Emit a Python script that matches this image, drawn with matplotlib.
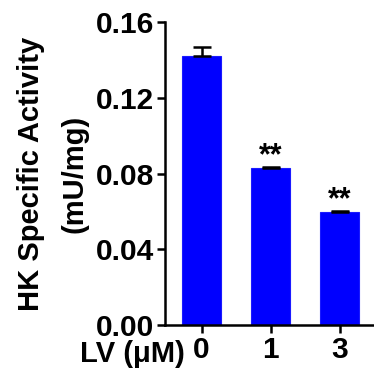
import matplotlib.pyplot as plt
import matplotlib.transforms as mtransforms

plt.rcParams['font.family'] = ['Liberation Sans', 'DejaVu Sans']
plt.rcParams['font.weight'] = 'bold'

groups = ['0', '1', '3']
means = [0.1422, 0.0827, 0.0597]
errors = [0.0046, 0.0005, 0.0003]
marks = ['', '**', '**']

fig = plt.figure(figsize=(3.74, 3.75), dpi=100)
ax = fig.add_axes([0.441, 0.1333, 0.559, 0.808])

x = list(range(len(groups)))
ax.bar(x, means, width=0.57, color='#0000ff', edgecolor='#1a1aff', linewidth=0.8,
       yerr=[[0] * len(errors), errors], capsize=6.5,
       error_kw=dict(elinewidth=1.8, capthick=1.8, ecolor='black'))

for xi, m, e, s in zip(x, means, errors, marks):
    if s:
        ax.text(xi, m + e - 0.002, s, ha='center', va='bottom', fontsize=22,
                fontweight='bold')

ax.set_xlim(-0.53, 2.5)
ax.set_ylim(0, 0.16)
ax.set_yticks([0, 0.04, 0.08, 0.12, 0.16])
ax.set_yticklabels(['0.00', '0.04', '0.08', '0.12', '0.16'])
ax.set_xticks(x)
ax.set_xticklabels(groups)

for side in ['top', 'right']:
    ax.spines[side].set_visible(False)
for side in ['left', 'bottom']:
    ax.spines[side].set_linewidth(1.8)
ax.tick_params(axis='both', width=1.8, length=6, labelsize=21.5, pad=2)

ax.set_ylabel('HK Specific Activity\n(mU/mg)', fontsize=21, fontweight='bold',
              linespacing=1.7, labelpad=5)

trans = mtransforms.blended_transform_factory(ax.transData, ax.transAxes)
ax.text(-0.24, -0.05, 'LV (\u03bcM)', transform=trans, ha='right', va='top',
        fontsize=21, fontweight='bold')

plt.savefig('out.png', dpi=100)
